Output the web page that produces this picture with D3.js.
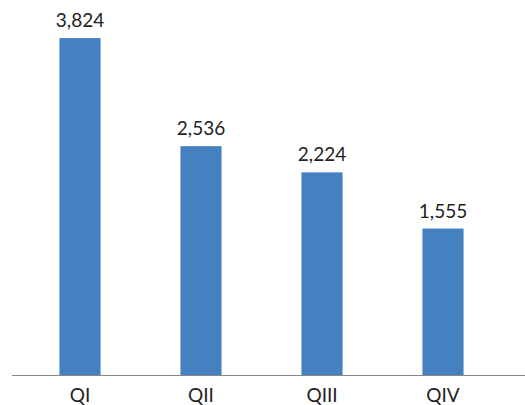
<!DOCTYPE html>
<html lang="en">
<head>
    <meta charset="utf-8">
    <style>
    body { margin: 0; background: #fff; }
    .label { font-family: Lato, "Open Sans", sans-serif; font-size: 19px; fill: #222; }
    </style>
    <script src="https://d3js.org/d3.v7.min.js"></script>
</head>
<body>
<svg width="525" height="405"></svg>
<script>
    var quarters = ["QI", "QII", "QIII", "QIV"];
    var sales = [3824, 2536, 2224, 1555];

    var svg = d3.select("svg");

    var x = d3.scaleBand()
        .domain(quarters)
        .range([19.5, 503.5])
        .paddingInner(0.66)
        .paddingOuter(0.33);

    // baseline sits a bit below zero in the original
    var y = d3.scaleLinear()
        .domain([-190, 4000])
        .range([375, 23.3]);

    svg.selectAll(".bar")
        .data(quarters)
        .enter()
        .append("rect")
        .attr("class", "bar")
        .attr("x", function(d) { return x(d); })
        .attr("width", x.bandwidth())
        .attr("y", function(d, i) { return y(sales[i]); })
        .attr("height", function(d, i) { return y(-190) - y(sales[i]); })
        .attr("fill", "#4581c1");

    svg.selectAll(".value")
        .data(quarters)
        .enter()
        .append("text")
        .attr("class", "label value")
        .attr("text-anchor", "middle")
        .attr("x", function(d) { return x(d) + x.bandwidth() / 2; })
        .attr("y", function(d, i) { return y(sales[i]) - 11; })
        .text(function(d, i) { return d3.format(",")(sales[i]); });

    var axis = svg.append("g")
        .attr("transform", "translate(0,375)")
        .call(d3.axisBottom(x).tickSize(0).tickPadding(14));

    axis.select(".domain")
        .attr("d", "M12,0.5H525")
        .attr("stroke", "#888");

    axis.selectAll("text")
        .attr("class", "label")
        .attr("font-family", null)
        .attr("font-size", null)
        .attr("fill", null);
</script>
</body>
</html>
